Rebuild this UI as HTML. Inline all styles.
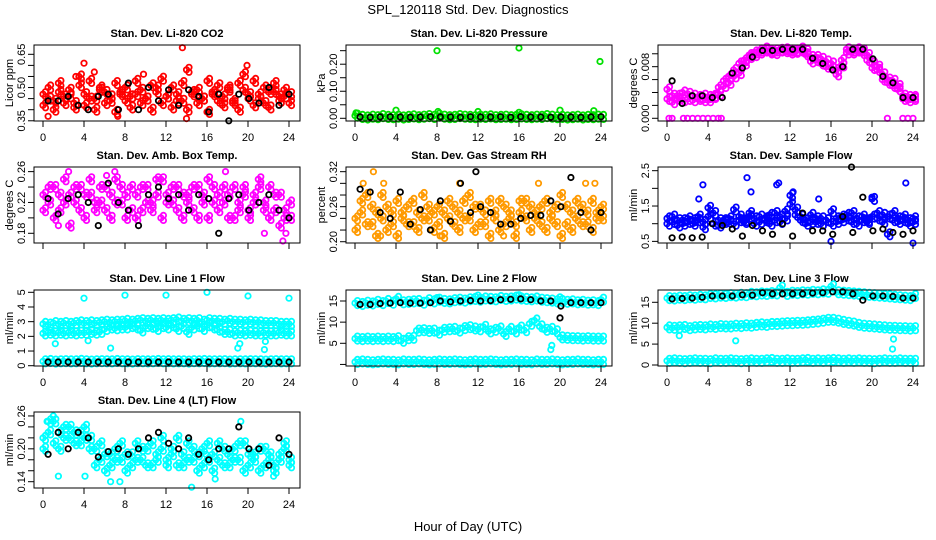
<!DOCTYPE html>
<html><head><meta charset="utf-8"><style>
html,body{margin:0;padding:0;background:#fff;}
svg{display:block;font-family:"Liberation Sans",Arial,sans-serif;}
</style></head><body>
<svg id="chart" width="936" height="540" viewBox="0 0 936 540">
<text x="468" y="14" text-anchor="middle" font-size="13">SPL_120118  Std. Dev. Diagnostics</text>
<text x="468" y="531" text-anchor="middle" font-size="13">Hour of Day (UTC)</text>
</svg>
<script>
// ---------- data ----------
const hourTicks = [0,4,8,12,16,20,24];

const co2RedA = [0.47,0.50,0.44,0.52,0.46,0.49,0.43,0.51,0.47,0.53,0.45,0.50,0.48,0.44,0.52,0.47,0.50,0.46,0.53,0.49,0.45,0.51,0.48,0.54,0.46,0.50,0.44,0.52,0.58,0.47,0.49,0.45,0.53,0.48,0.51,0.46,0.50,0.44,0.52,0.49,0.47,0.53,0.45,0.50,0.48,0.52,0.46,0.49,0.47];
const co2RedB = [0.42,0.45,0.40,0.48,0.43,0.46,0.41,0.55,0.42,0.45,0.40,0.49,0.43,0.46,0.39,0.48,0.44,0.41,0.47,0.43,0.45,0.40,0.50,0.43,0.46,0.41,0.47,0.44,0.40,0.48,0.43,0.45,0.39,0.47,0.44,0.42,0.49,0.43,0.40,0.56,0.45,0.42,0.47,0.43,0.41,0.48,0.44,0.46,0.43];
const co2OutX = [4,13.6,19.9,0.5,14.0,5,7.3,3.2,9.8];
const co2OutY = [0.61,0.68,0.60,0.37,0.36,0.57,0.37,0.55,0.56];
const co2Black = [0.44,0.44,0.46,0.42,0.40,0.46,0.47,0.40,0.52,0.40,0.50,0.44,0.49,0.42,0.49,0.46,0.39,0.47,0.35,0.47,0.45,0.43,0.50,0.42,0.47];

const presGreen = [0.010,0.005,0.003,0.006,0.004,0.008,0.005,0.004,0.006,0.003,0.005,0.007,0.004,0.006,0.008,0.005,0.010,0.006,0.004,0.005,0.008,0.006,0.005,0.004,0.006,0.005,0.007,0.004,0.005,0.006,0.004,0.005,0.007,0.005,0.004,0.006,0.005,0.008,0.006,0.004,0.005,0.003,0.004,0.006,0.003,0.005,0.004,0.006,0.005];
const presOutX = [0.1,4,8,8.1,12,16,16,20,23.3,23.9];
const presOutY = [0.02,0.03,0.25,0.025,0.025,0.26,0.022,0.03,0.028,0.21];
const presBlack = [0.005,0.004,0.005,0.006,0.005,0.004,0.005,0.006,0.005,0.005,0.004,0.006,0.005,0.005,0.006,0.004,0.006,0.005,0.005,0.004,0.005,0.005,0.004,0.005,0.006];

const tempMagA = [0.0045,0.0035,0.0030,0.0040,0.0030,0.0035,0.0030,0.0028,0.0033,0.0033,0.0038,0.0050,0.0065,0.0075,0.0085,0.0090,0.0098,0.0102,0.0105,0.0105,0.0104,0.0105,0.0105,0.0104,0.0105,0.0105,0.0105,0.0104,0.0095,0.0090,0.0085,0.0088,0.0078,0.0075,0.0090,0.0102,0.0105,0.0105,0.0105,0.0098,0.0085,0.0075,0.0068,0.0060,0.0050,0.0045,0.0030,0.0033,0.0030];
const tempMagB = [0.0030,0.0025,0.0035,0.0028,0.0038,0.0028,0.0033,0.0035,0.0028,0.0035,0.0048,0.0058,0.0055,0.0065,0.0070,0.0085,0.0095,0.0098,0.0102,0.0108,0.0102,0.0101,0.0106,0.0107,0.0102,0.0103,0.0108,0.0099,0.0088,0.0095,0.0092,0.0080,0.0085,0.0068,0.0082,0.0107,0.0102,0.0107,0.0101,0.0090,0.0078,0.0080,0.0060,0.0055,0.0058,0.0050,0.0035,0.0028,0.0033];
const tempZeroX = [0.2,0.5,1.6,2.0,2.5,3.0,3.5,4.0,4.5,5.0,5.3,21.5,23.0,23.5,24.0];
const tempZeroY = [0,0,0,0,0,0,0,0,0,0,0,0,0,0,0];
const tempBlack = [0.0058,0.0023,0.0035,0.0035,0.0032,0.0032,0.0070,0.0078,0.0095,0.0105,0.0105,0.0107,0.0107,0.0107,0.0093,0.0085,0.0075,0.0080,0.0107,0.0107,0.0092,0.0065,0.0055,0.0032,0.0032];

const ambMagA = [0.23,0.22,0.24,0.21,0.25,0.23,0.22,0.24,0.20,0.23,0.22,0.24,0.21,0.23,0.25,0.22,0.20,0.24,0.23,0.21,0.24,0.22,0.23,0.25,0.22,0.24,0.21,0.23,0.22,0.24,0.20,0.23,0.25,0.22,0.21,0.24,0.23,0.20,0.22,0.24,0.21,0.23,0.25,0.22,0.24,0.21,0.23,0.20,0.22];
const ambMagB = [0.21,0.24,0.20,0.23,0.22,0.19,0.24,0.21,0.23,0.25,0.21,0.22,0.24,0.20,0.22,0.24,0.23,0.21,0.20,0.24,0.22,0.21,0.25,0.20,0.23,0.22,0.24,0.20,0.23,0.21,0.24,0.22,0.20,0.24,0.23,0.22,0.20,0.24,0.21,0.23,0.20,0.22,0.24,0.21,0.20,0.23,0.19,0.21,0.20];
const ambOutX = [1.5,2.5,6.2,7,17.8,21.6,23.4,23.7];
const ambOutY = [0.19,0.26,0.255,0.26,0.26,0.18,0.17,0.18];
const ambBlack = [0.225,0.205,0.225,0.23,0.22,0.19,0.245,0.22,0.21,0.19,0.23,0.24,0.225,0.23,0.21,0.23,0.225,0.18,0.225,0.23,0.21,0.22,0.23,0.21,0.20];

const rhOrangeA = [0.24,0.27,0.23,0.26,0.25,0.28,0.22,0.25,0.27,0.24,0.26,0.23,0.25,0.28,0.24,0.22,0.26,0.25,0.27,0.23,0.25,0.24,0.28,0.26,0.23,0.25,0.27,0.24,0.22,0.26,0.25,0.23,0.27,0.24,0.26,0.25,0.23,0.27,0.24,0.26,0.28,0.23,0.25,0.24,0.26,0.23,0.27,0.25,0.24];
const rhOrangeB = [0.22,0.25,0.28,0.23,0.21,0.24,0.26,0.23,0.21,0.25,0.23,0.27,0.22,0.24,0.26,0.25,0.23,0.21,0.24,0.26,0.22,0.27,0.24,0.22,0.26,0.23,0.21,0.25,0.27,0.23,0.24,0.21,0.25,0.27,0.22,0.24,0.26,0.22,0.25,0.23,0.21,0.26,0.22,0.27,0.23,0.25,0.22,0.24,0.26];
const rhOutX = [0.8,1.8,2.8,10.2,14.5,17.9,22.5,23.4,2.5,8.3];
const rhOutY = [0.30,0.32,0.30,0.30,0.21,0.30,0.30,0.30,0.21,0.21];
const rhBlack = [0.29,0.285,0.25,0.24,0.285,0.23,0.255,0.22,0.27,0.235,0.30,0.25,0.26,0.25,0.23,0.23,0.24,0.245,0.245,0.27,0.26,0.31,0.25,0.22,0.25];
const rhBlackOutX = [11.8];
const rhBlackOutY = [0.32];

const flowBlueA = [1.15,1.05,1.1,1.0,1.05,1.1,1.2,1.05,1.45,1.3,1.1,1.05,1.15,1.4,1.2,1.1,1.3,1.15,1.2,1.1,1.25,1.3,1.2,1.35,1.55,1.4,1.2,1.1,1.25,1.05,1.15,1.1,1.35,1.15,1.2,1.25,1.3,1.15,1.2,1.1,1.7,1.3,1.25,1.2,1.3,1.15,1.2,1.1,1.15];
const flowBlueB = [1.0,1.2,0.95,1.1,1.15,1.0,1.1,0.9,1.2,1.0,0.95,1.1,1.05,1.0,1.1,1.05,1.2,1.0,1.05,1.15,1.0,1.1,1.05,1.15,1.8,1.25,1.1,1.0,1.05,1.15,1.0,1.1,1.0,1.05,1.1,1.15,1.05,1.0,1.1,1.05,1.2,1.15,1.05,0.7,1.1,1.05,1.1,1.0,1.05];
const flowOutX = [3.5,3.1,7.8,8.2,10.7,10.9,12.3,14.8,20,23.3,24,16];
const flowOutY = [2.1,1.7,2.3,1.9,2.1,2.15,1.9,1.7,1.75,2.15,0.45,0.5];
const flowBlack = [0.6,0.62,0.6,0.62,1.0,0.95,0.85,0.65,0.95,0.8,0.7,1.0,0.65,1.3,0.8,0.8,0.7,1.2,0.75,1.75,0.8,0.85,0.75,0.7,0.8];
const flowBlackOutX = [18];
const flowBlackOutY = [2.6];

const l1High = [2.85,2.8,2.9,2.85,2.9,2.85,2.9,2.95,2.9,2.95,2.9,2.95,3.0,2.95,3.0,3.0,3.05,3.0,3.05,3.1,3.05,3.1,3.05,3.1,3.05,3.1,3.15,3.05,3.1,3.05,3.1,3.0,3.1,3.05,3.05,3.0,3.05,3.0,3.0,2.95,3.0,2.95,2.95,2.9,2.9,2.9,2.85,2.85,2.85];
const l1Mid = [2.2,2.25,2.2,2.25,2.2,2.25,2.2,2.25,2.25,2.3,2.25,2.3,2.5,2.6,2.55,2.6,2.6,2.7,2.6,2.4,2.7,2.65,2.5,2.7,2.6,2.75,2.5,2.7,2.3,2.6,2.7,2.5,2.75,2.6,2.45,2.3,2.3,2.2,2.25,2.2,2.25,2.2,2.2,2.25,2.2,2.2,2.25,2.2,2.2];
const l1Low = [0.3,0.32,0.28,0.3,0.31,0.29,0.3,0.33,0.3,0.28,0.3,0.31,0.3,0.29,0.32,0.3,0.3,0.28,0.31,0.3,0.29,0.3,0.32,0.3,0.31,0.29,0.3,0.3,0.28,0.31,0.3,0.32,0.29,0.3,0.3,0.31,0.28,0.3,0.3,0.29,0.31,0.3,0.3,0.28,0.3,0.31,0.29,0.3,0.3];
const l1OutX = [4,8,12,16,20,24,1.2,4.4,6.6,19,19.2,21.6,21.7];
const l1OutY = [4.6,4.8,4.8,5.0,4.75,4.6,1.5,1.7,1.2,1.2,1.5,1.1,1.65];
const l1Black = [0.25,0.25,0.25,0.25,0.25,0.25,0.25,0.25,0.25,0.25,0.25,0.25,0.25,0.25,0.25,0.25,0.25,0.25,0.25,0.25,0.25,0.25,0.25,0.25,0.25];

const l2Top = [14.5,14.3,14.6,14.4,14.8,14.5,15.0,14.6,15.5,14.7,14.8,14.9,15.0,14.6,15.2,14.9,15.3,15.0,14.9,15.2,15.3,15.1,15.4,15.5,15.3,15.6,15.5,15.4,15.7,15.5,15.6,15.8,15.6,15.5,15.4,15.6,15.3,15.2,15.1,14.9,15.0,14.8,14.9,14.7,14.8,14.6,14.7,14.5,15.3];
const l2Mid = [6.1,6.0,6.1,6.0,6.1,6.0,6.1,6.0,6.2,5.6,6.2,6.3,8.0,8.1,7.9,8.0,7.5,8.2,8.3,8.4,8.0,8.6,8.8,8.5,8.3,8.9,7.8,8.2,8.5,7.2,8.4,7.8,8.7,8.1,9.6,10.4,9.0,8.2,8.4,7.8,6.4,6.3,6.2,6.2,6.1,6.2,6.1,6.1,6.1];
const l2Low = [0.6,0.7,0.6,0.5,0.6,0.7,0.6,0.6,0.5,0.7,0.6,0.6,0.7,0.6,0.5,0.6,0.7,0.6,0.6,0.7,0.6,0.5,0.6,0.7,0.6,0.6,0.7,0.6,0.5,0.6,0.6,0.7,0.6,0.6,0.5,0.7,0.6,0.6,0.7,0.6,0.5,0.6,0.6,0.7,0.6,0.6,0.5,0.6,0.6];
const l2OutX = [8,12,16,20,19.1,19.2,4];
const l2OutY = [15.8,16.4,16.5,16.0,3.5,4.5,15.5];
const l2Black = [14.2,14.2,14.4,14.5,14.6,14.5,14.5,14.6,15.0,14.8,15.0,15.1,15.0,15.1,15.3,15.4,15.5,15.3,15.0,15.0,13.8,14.6,14.6,14.6,14.6];
const l2BlackOutX = [20];
const l2BlackOutY = [11];

const l3Top = [16.0,15.9,16.1,16.0,16.2,16.1,16.3,16.2,16.5,16.4,16.6,16.5,16.7,16.6,16.8,16.7,17.0,16.9,17.1,17.0,17.2,17.1,18.5,17.0,17.3,17.2,17.4,17.3,17.5,17.4,17.6,17.5,18.8,17.4,17.3,17.2,17.1,17.0,16.9,16.8,16.7,16.6,16.5,16.4,16.3,16.2,16.1,16.0,16.5];
const l3Mid = [9.0,8.9,9.0,9.1,8.8,9.0,9.1,9.0,9.2,9.1,9.3,9.2,9.2,9.4,9.3,9.5,9.4,9.6,9.7,9.6,9.8,9.8,9.9,10.0,10.0,10.1,10.1,10.2,10.3,10.4,10.6,10.8,10.8,10.6,10.3,10.1,9.9,9.6,9.4,9.3,9.2,9.1,9.0,8.9,8.9,8.8,8.8,8.7,8.8];
const l3Low = [1.0,1.1,1.0,0.9,1.0,1.1,1.0,1.0,0.9,1.1,1.0,1.0,1.1,1.0,0.9,1.0,1.1,1.0,1.0,1.1,1.2,1.0,1.0,1.1,1.0,1.0,1.1,1.2,1.0,1.1,1.0,1.1,1.2,1.1,1.0,1.1,1.0,1.1,1.0,1.0,0.9,1.0,1.1,1.0,1.0,1.1,1.0,1.0,1.0];
const l3OutX = [1.2,6.7,22.1,22.0];
const l3OutY = [7.0,5.8,6.2,3.8];
const l3Black = [15.8,15.9,16.0,16.2,16.5,16.5,16.5,16.8,16.7,17.3,17.0,17.0,17.0,17.0,17.2,17.3,17.5,17.5,17.0,15.5,16.5,16.5,16.4,16.0,16.0];

const l4CyanA = [0.22,0.25,0.21,0.23,0.24,0.22,0.23,0.21,0.24,0.22,0.20,0.18,0.19,0.17,0.20,0.18,0.16,0.19,0.21,0.18,0.20,0.17,0.19,0.22,0.18,0.20,0.17,0.19,0.21,0.18,0.16,0.20,0.18,0.19,0.21,0.17,0.19,0.20,0.18,0.21,0.17,0.19,0.16,0.20,0.18,0.17,0.19,0.21,0.18];
const l4CyanB = [0.20,0.23,0.25,0.20,0.22,0.24,0.21,0.23,0.22,0.20,0.17,0.21,0.16,0.19,0.18,0.21,0.19,0.17,0.18,0.20,0.17,0.21,0.18,0.20,0.17,0.19,0.22,0.17,0.18,0.20,0.19,0.17,0.21,0.16,0.18,0.20,0.17,0.18,0.21,0.16,0.19,0.18,0.20,0.17,0.19,0.16,0.18,0.20,0.17];
const l4OutX = [1,0.4,1.5,4.1,7.5,6.6,19.3,15.9,22.5,16.8,14.5];
const l4OutY = [0.26,0.25,0.15,0.15,0.14,0.14,0.25,0.19,0.15,0.145,0.13];
const l4Black = [0.19,0.23,0.20,0.23,0.22,0.185,0.195,0.20,0.19,0.20,0.22,0.23,0.21,0.20,0.22,0.19,0.18,0.20,0.20,0.24,0.20,0.20,0.17,0.22,0.19];

// y tick values and printed labels
const co2Ticks = [0.35,0.40,0.45,0.50,0.55,0.60,0.65];   const co2Labels = ["0.35","","","0.50","","","0.65"];
const presTicks = [0,0.05,0.10,0.15,0.20,0.25];         const presLabels = ["0.00","","0.10","","0.20",""];
const tempTicks = [0,0.002,0.004,0.006,0.008,0.010];     const tempLabels = ["0.000","","","","0.008",""];
const ambTicks = [0.18,0.20,0.22,0.24,0.26];            const ambLabels = ["0.18","","0.22","","0.26"];
const rhTicks = [0.20,0.22,0.24,0.26,0.28,0.30,0.32];   const rhLabels = ["0.20","","","0.26","","","0.32"];
const flowTicks = [0.5,1.0,1.5,2.0,2.5];                const flowLabels = ["0.5","","1.5","","2.5"];
const l1Ticks = [0,1,2,3,4,5];                          const l1Labels = ["0","1","2","3","4","5"];
const l2Ticks = [0,5,10,15];                            const l2Labels = ["","5","10","15"];
const l3Ticks = [0,5,10,15];                            const l3Labels = ["0","5","10","15"];
const l4Ticks = [0.14,0.16,0.18,0.20,0.22,0.24,0.26];   const l4Labels = ["0.14","","","0.20","","","0.26"];

// ---------- drawing ----------
const NS = "http://www.w3.org/2000/svg";
const svg = document.getElementById("chart");
const COLS = [{l:34,r:300,h0:43,h24:289},{l:346,r:612,h0:355,h24:601},{l:658,r:924,h0:667,h24:913}];
const ROWS = [45,167,290,412];
const BOX_H = 76;
const SMEAR = [[0,0],[2.5,2.5],[2.5,-2.5]];

function mk(tag, attrs, parent){
  const e = document.createElementNS(NS, tag);
  for (const k in attrs) e.setAttribute(k, attrs[k]);
  (parent||svg).appendChild(e);
  return e;
}
function evenHours(n, start){ const a=[]; for(let i=0;i<n;i++) a.push(start + i*(24-start)/(n-1)); return a; }

function panel(id, col, row, title, ylab, lo, hi, ticks, labels, showX, series){
  const C = COLS[col], top = ROWS[row], bot = top + BOX_H;
  const g = mk("g", {});
  
  
  const xs = h => C.h0 + (h/24)*(C.h24 - C.h0);
  const ys = v => bot - (v - lo)/(hi - lo)*BOX_H;
  const t = mk("text", {x:(C.l+C.r)/2, y:top-8, "text-anchor":"middle", "font-size":"11", "font-weight":"bold"}, g);
  t.textContent = title;
  
  
  const yl = mk("text", {transform:`translate(${C.l-21},${(top+bot)/2}) rotate(-90)`, "text-anchor":"middle", "font-size":"11"}, g);
  yl.textContent = ylab;
  
  
  const pts = mk("g", {fill:"none", "stroke-width":"1.8"}, g);
  
  
  series.forEach(s => {
    const offs = s.dense ? SMEAR : [[0,0]];
    for (let i=0;i<s.y.length;i++){
      offs.forEach(o => {
        const c = mk("circle", {cx:(xs(s.x[i])+o[0]).toFixed(1), cy:(ys(s.y[i])+o[1]).toFixed(1), r:"2.7", stroke:s.c}, pts);
        
        
      });
    }
  });
  const box = mk("rect", {x:C.l, y:top, width:C.r-C.l, height:BOX_H, fill:"none", stroke:"#000", "stroke-width":"1"}, g);
  
  
  const ya = mk("g", {}, g);
  
  
  ticks.forEach((v,i) => {
    const y = ys(v);
    mk("line", {x1:C.l-6, x2:C.l, y1:y, y2:y, stroke:"#000"}, ya);
    if (labels[i]) {
      const tl = mk("text", {transform:`translate(${C.l-9},${y}) rotate(-90)`, "text-anchor":"middle", "font-size":"11"}, ya);
      tl.textContent = labels[i];
      
      
    }
  });
  const xa = mk("g", {}, g);
  
  
  hourTicks.forEach(h => {
    const x = xs(h);
    mk("line", {x1:x, x2:x, y1:bot, y2:bot+6, stroke:"#000"}, xa);
    if (showX) {
      const tl = mk("text", {x:x, y:bot+20, "text-anchor":"middle", "font-size":"11"}, xa);
      tl.textContent = String(h);
      
      
    }
  });
}

const H49 = evenHours(49, 0), HB = evenHours(25, 0.5);
const RED="#ff0000", BLK="#000000", GRN="#00e000", MAG="#ff00ff", ORG="#ff9a00", BLU="#0000ff", CYN="#00ffff";

panel("co2",0,0,"Stan. Dev. Li-820 CO2","Licor ppm",0.349,0.692,co2Ticks,co2Labels,true,[
  {x:H49,y:co2RedA,c:RED,dense:true},{x:H49,y:co2RedB,c:RED,dense:true},{x:co2OutX,y:co2OutY,c:RED},{x:HB,y:co2Black,c:BLK}]);
panel("pressure",1,0,"Stan. Dev. Li-820 Pressure","kPa",-0.010,0.271,presTicks,presLabels,true,[
  {x:H49,y:presGreen,c:GRN,dense:true},{x:presOutX,y:presOutY,c:GRN},{x:HB,y:presBlack,c:BLK}]);
panel("li820-temp",2,0,"Stan. Dev. Li-820 Temp.","degrees C",-0.00042,0.01136,tempTicks,tempLabels,true,[
  {x:H49,y:tempMagA,c:MAG,dense:true},{x:H49,y:tempMagB,c:MAG,dense:true},{x:tempZeroX,y:tempZeroY,c:MAG},{x:HB,y:tempBlack,c:BLK}]);
panel("amb-temp",0,1,"Stan. Dev. Amb. Box Temp.","degrees C",0.1674,0.266,ambTicks,ambLabels,false,[
  {x:H49,y:ambMagA,c:MAG,dense:true},{x:H49,y:ambMagB,c:MAG,dense:true},{x:ambOutX,y:ambOutY,c:MAG},{x:HB,y:ambBlack,c:BLK}]);
panel("rh",1,1,"Stan. Dev. Gas Stream RH","percent",0.1978,0.328,rhTicks,rhLabels,false,[
  {x:H49,y:rhOrangeA,c:ORG,dense:true},{x:H49,y:rhOrangeB,c:ORG,dense:true},{x:rhOutX,y:rhOutY,c:ORG},{x:HB,y:rhBlack,c:BLK},{x:rhBlackOutX,y:rhBlackOutY,c:BLK}]);
panel("sample-flow",2,1,"Stan. Dev. Sample Flow","ml/min",0.454,2.604,flowTicks,flowLabels,false,[
  {x:H49,y:flowBlueA,c:BLU,dense:true},{x:H49,y:flowBlueB,c:BLU,dense:true},{x:flowOutX,y:flowOutY,c:BLU},{x:HB,y:flowBlack,c:BLK},{x:flowBlackOutX,y:flowBlackOutY,c:BLK}]);
panel("line1",0,2,"Stan. Dev. Line 1 Flow","ml/min",-0.02,5.157,l1Ticks,l1Labels,true,[
  {x:H49,y:l1High,c:CYN,dense:true},{x:H49,y:l1Mid,c:CYN,dense:true},{x:H49,y:l1Low,c:CYN,dense:true},{x:l1OutX,y:l1OutY,c:CYN},{x:HB,y:l1Black,c:BLK}]);
panel("line2",1,2,"Stan. Dev. Line 2 Flow","ml/min",-0.37,17.6,l2Ticks,l2Labels,true,[
  {x:H49,y:l2Top,c:CYN,dense:true},{x:H49,y:l2Mid,c:CYN,dense:true},{x:H49,y:l2Low,c:CYN,dense:true},{x:l2OutX,y:l2OutY,c:CYN},{x:HB,y:l2Black,c:BLK},{x:l2BlackOutX,y:l2BlackOutY,c:BLK}]);
panel("line3",2,2,"Stan. Dev. Line 3 Flow","ml/min",-0.24,17.94,l3Ticks,l3Labels,true,[
  {x:H49,y:l3Top,c:CYN,dense:true},{x:H49,y:l3Mid,c:CYN,dense:true},{x:H49,y:l3Low,c:CYN,dense:true},{x:l3OutX,y:l3OutY,c:CYN},{x:HB,y:l3Black,c:BLK}]);
panel("line4",0,3,"Stan. Dev. Line 4 (LT) Flow","ml/min",0.1285,0.2672,l4Ticks,l4Labels,true,[
  {x:H49,y:l4CyanA,c:CYN,dense:true},{x:H49,y:l4CyanB,c:CYN,dense:true},{x:l4OutX,y:l4OutY,c:CYN},{x:HB,y:l4Black,c:BLK}]);
</script>
</body></html>
